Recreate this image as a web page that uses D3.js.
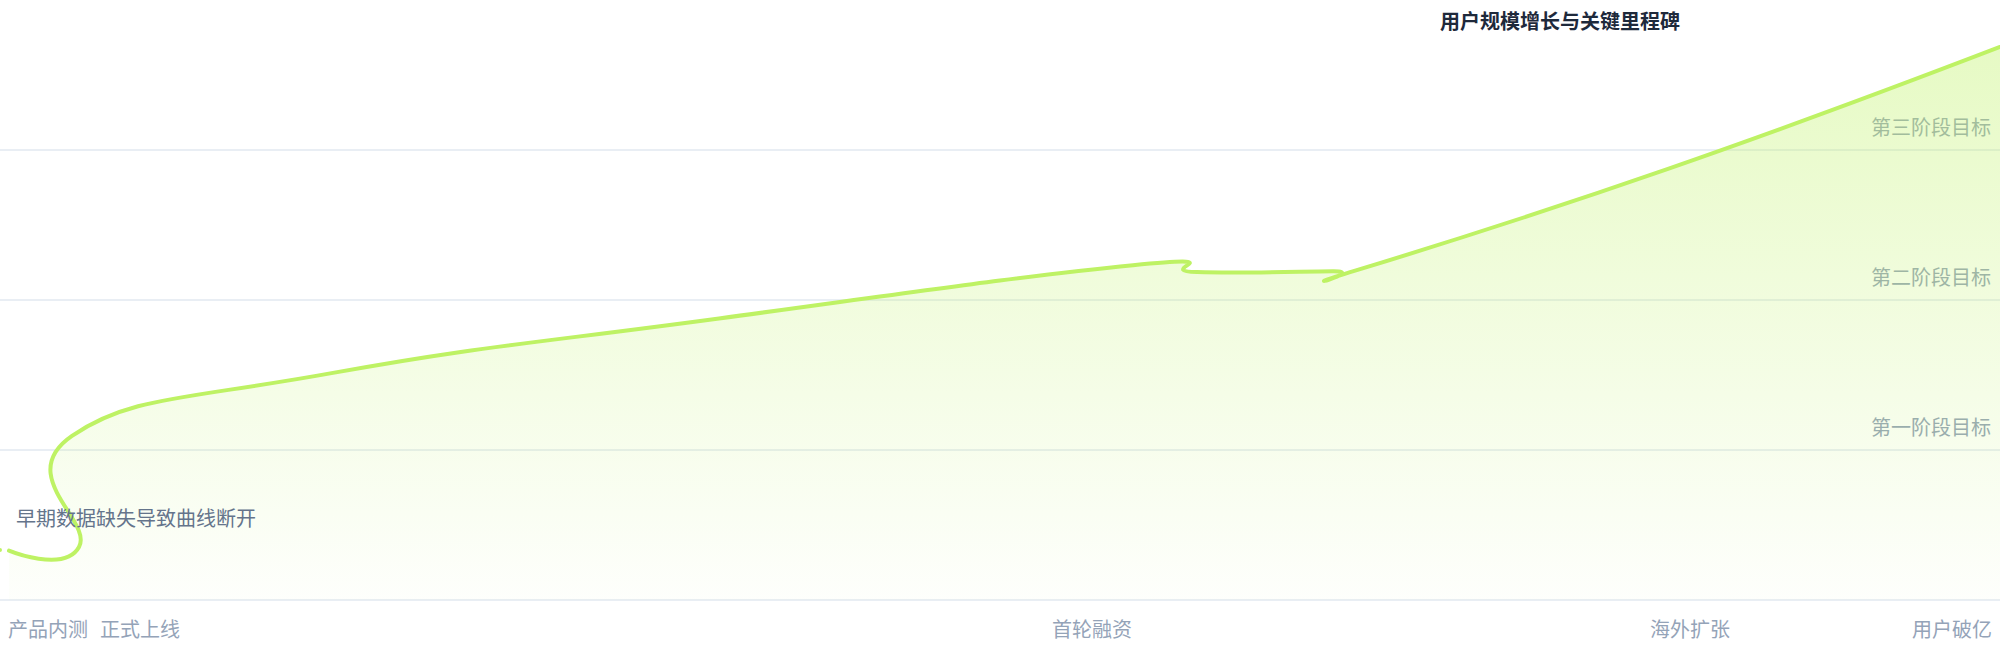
<!DOCTYPE html>
<html><head><meta charset="utf-8">
<script src="https://cdn.jsdelivr.net/npm/d3@7"></script>
<style>body{margin:0;background:#fff} svg{display:block}</style></head>
<body><div id="chart"></div>
<script>
// data (one entry has no value, which breaks the line)
const dates = ["2018-01-01", "2018-01-05", "2018-01-10", "2018-03-21", "2018-03-14", "2018-11-30", "2019-12-21",
    "2021-02-07", "2021-04-12", "2021-08-26", "2021-09-18", "2022-07-27", "2023-06-24"];
const values = [33300, null, 32900, 35300, 109400, 151400, 187700, 223200, 218600, 219200, 219700, 287400, 368700];
const xTickDates = ["2018-02-18", "2018-05-21", "2020-12-28", "2022-08-18", "2023-05-07"];
const xTickLabels = ["产品内测", "正式上线", "首轮融资", "海外扩张", "用户破亿"];
const yTicks = [100000, 200000, 300000];
const yTickLabels = ["第一阶段目标", "第二阶段目标", "第三阶段目标"];
const title = "用户规模增长与关键里程碑";
const note = "早期数据缺失导致曲线断开";

const width = 2000, height = 660, baseY = 600;
const font = "'Noto Sans CJK SC', 'Noto Sans', sans-serif";
const parse = d3.utcParse("%Y-%m-%d");
const data = dates.map((d, i) => ({ date: parse(d), value: values[i] }));

const x = d3.scaleUtc()
    .domain(d3.extent(data, d => d.date))
    .range([0, width]);
const y = d3.scaleLinear()
    .domain([0, 400000])
    .range([baseY, 0]);
const curve = d3.curveCardinal.tension(-0.378);

const svg = d3.select("#chart")
    .append("svg")
    .attr("width", width)
    .attr("height", height);

const grad = svg.append("defs").append("linearGradient")
    .attr("id", "area-grad")
    .attr("gradientUnits", "userSpaceOnUse")
    .attr("x1", 0).attr("x2", 0)
    .attr("y1", y(d3.max(values))).attr("y2", y(0));
grad.append("stop").attr("offset", "0%").attr("stop-color", "#bef264").attr("stop-opacity", 0.38);
grad.append("stop").attr("offset", "100%").attr("stop-color", "#bef264").attr("stop-opacity", 0.02);

// grid lines + baseline
svg.append("g")
    .selectAll("line")
    .data([0].concat(yTicks))
    .enter().append("line")
    .attr("x1", 0).attr("x2", width)
    .attr("y1", d => y(d)).attr("y2", d => y(d))
    .attr("stroke", "#e2e8f0")
    .attr("stroke-width", 1.5);

// y labels sit under the area, so they pick up its tint
svg.append("g")
    .selectAll("text")
    .data(yTicks)
    .enter().append("text")
    .attr("x", 1991)
    .attr("y", d => y(d) - 15)
    .attr("text-anchor", "end")
    .style("font-family", font)
    .style("font-size", "20px")
    .attr("fill", "#94a3b8")
    .text((d, i) => yTickLabels[i]);

const area = d3.area()
    .defined(d => d.value != null)
    .curve(curve)
    .x(d => x(d.date))
    .y0(y(0))
    .y1(d => y(d.value));
svg.append("path")
    .datum(data)
    .attr("fill", "url(#area-grad)")
    .attr("d", area);

const line = d3.line()
    .defined(d => d.value != null)
    .curve(curve)
    .x(d => x(d.date))
    .y(d => y(d.value));
svg.append("path")
    .datum(data)
    .attr("fill", "none")
    .attr("stroke", "#bef264")
    .attr("stroke-width", 4)
    .attr("stroke-linecap", "round")
    .attr("stroke-linejoin", "round")
    .attr("d", line);

svg.append("g")
    .selectAll("text")
    .data(xTickDates)
    .enter().append("text")
    .attr("x", d => x(parse(d)))
    .attr("y", 637)
    .attr("text-anchor", "middle")
    .style("font-family", font)
    .style("font-size", "20px")
    .attr("fill", "#94a3b8")
    .text((d, i) => xTickLabels[i]);

svg.append("text")
    .attr("x", 16)
    .attr("y", 526)
    .style("font-family", font)
    .style("font-size", "20px")
    .attr("fill", "#64748b")
    .text(note);

svg.append("text")
    .attr("x", 1440)
    .attr("y", 29)
    .style("font-family", font)
    .style("font-size", "20px")
    .style("font-weight", "bold")
    .attr("fill", "#1e293b")
    .text(title);
</script></body></html>
